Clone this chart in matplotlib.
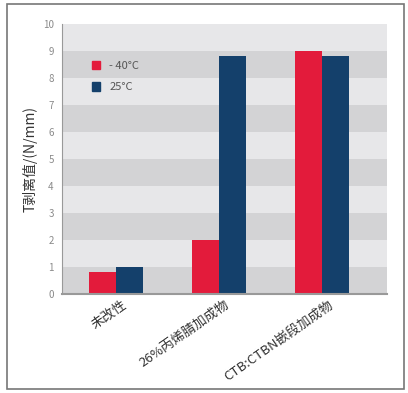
import matplotlib
matplotlib.use("Agg")
import matplotlib.pyplot as plt
from matplotlib.patches import Rectangle, Patch
from matplotlib.transforms import ScaledTranslation
import numpy as np

plt.rcParams['font.family'] = ['Noto Sans CJK SC', 'DejaVu Sans']

categories = ['未改性', '26%丙烯腈加成物', 'CTB:CTBN嵌段加成物']
cold = [0.8, 2.0, 9.0]    # -40°C
warm = [1.0, 8.8, 8.8]    # 25°C
series_labels = ['- 40°C', '25°C']
yticks = list(range(0, 11))

red = '#e31b3b'
blue = '#14406b'

fig = plt.figure(figsize=(4.08, 3.93), dpi=100)
ax = fig.add_axes([0.152, 0.252, 0.797, 0.687])

# outer frame
fig.patches.append(Rectangle((7 / 408, 4 / 393), 397 / 408, 385 / 393,
                             transform=fig.transFigure, fill=False,
                             edgecolor='#777777', linewidth=1.2))

# alternating bands
for i in range(10):
    ax.axhspan(i, i + 1, color='#d3d3d5' if i % 2 == 0 else '#e7e7e9',
               linewidth=0, zorder=0)

x = np.arange(len(categories))
w = 0.262
ax.bar(x - w / 2, cold, w, color=red, zorder=2)
ax.bar(x + w / 2, warm, w, color=blue, zorder=2)

ax.set_xlim(-0.524, 2.63)
ax.set_ylim(0, 10)
ax.set_yticks(yticks)
ax.set_yticklabels([str(t) for t in yticks], color='#8a8a8a', fontsize=7)
ax.tick_params(axis='y', length=0, pad=6)
ax.set_xticks(x)
ax.set_xticklabels(categories, rotation=35, ha='right', rotation_mode='anchor',
                   fontsize=9.5, color='#333333')
ax.tick_params(axis='x', length=0, pad=3)
shift = ScaledTranslation(4 / 72, 0, fig.dpi_scale_trans)
for lbl in ax.get_xticklabels():
    lbl.set_transform(lbl.get_transform() + shift)

for s in ['top', 'right']:
    ax.spines[s].set_visible(False)
ax.spines['left'].set_color('#999999')
ax.spines['bottom'].set_color('#999999')
ax.spines['bottom'].set_linewidth(1.5)

ax.set_ylabel('T剥离值/(N/mm)', fontsize=10, color='#333333', labelpad=4)

handles = [Patch(color=red), Patch(color=blue)]
ax.legend(handles, series_labels, loc='upper left', bbox_to_anchor=(0.06, 0.9),
          frameon=False, fontsize=8, handlelength=0.8, handleheight=0.8,
          labelspacing=1.0, handletextpad=0.8, labelcolor='#555555')

fig.savefig('out.png', dpi=100)
